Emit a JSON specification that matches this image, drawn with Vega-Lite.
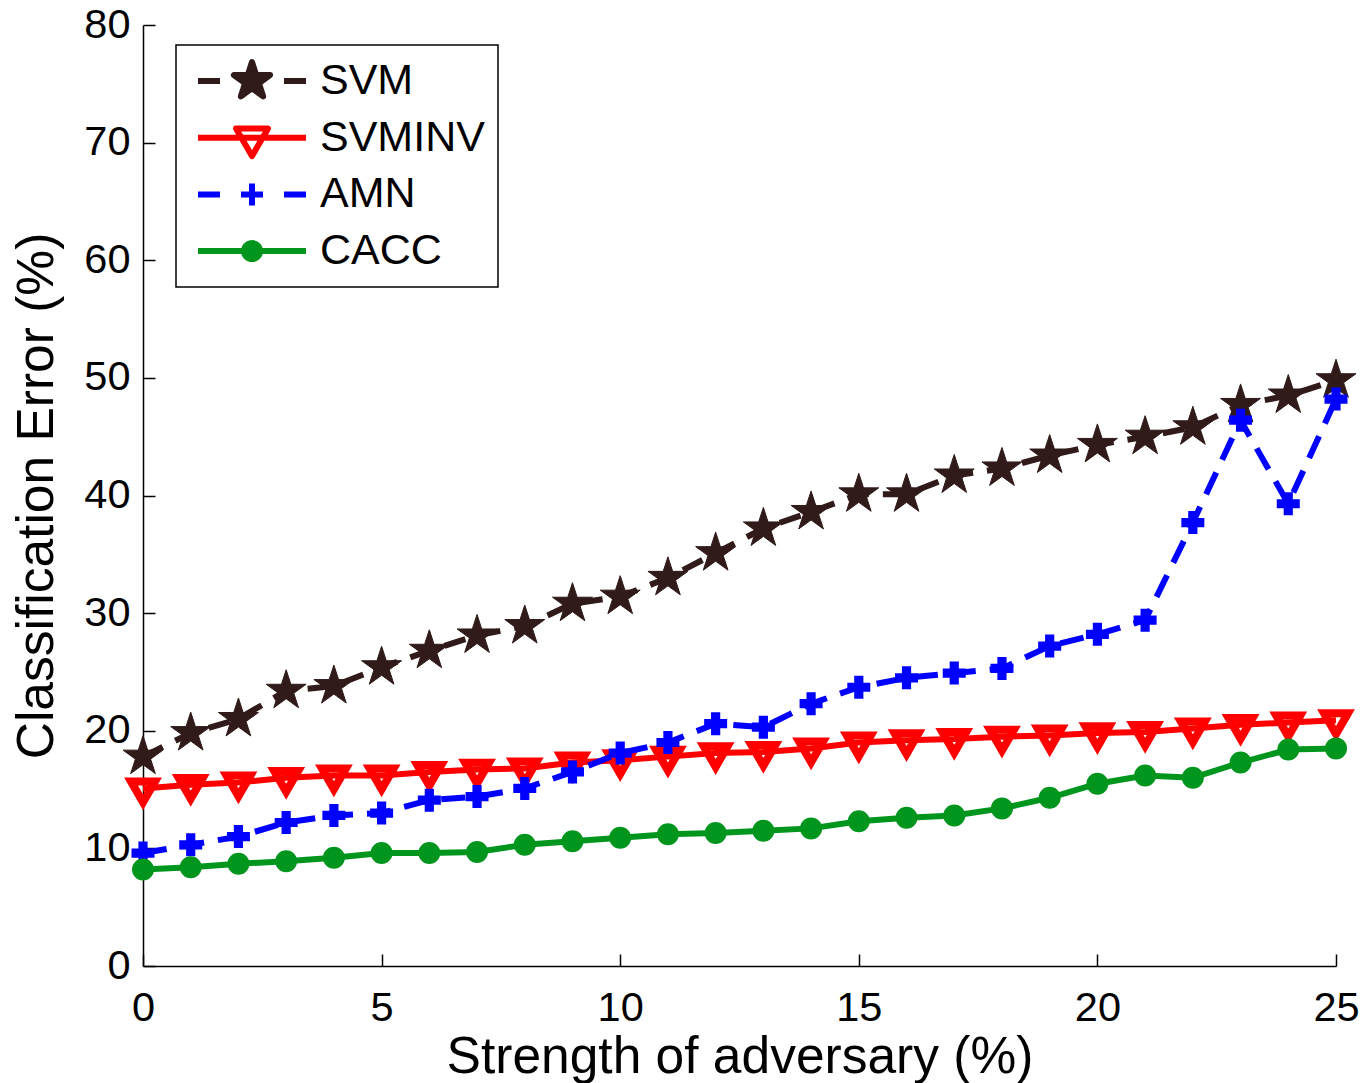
{
  "$schema": "https://vega.github.io/schema/vega-lite/v6.json",
  "width": 1193,
  "height": 941,
  "autosize": {"type": "none"},
  "padding": {"left": 143, "top": 25, "right": 30, "bottom": 117},
  "background": "white",
  "config": {
    "view": {"stroke": null},
    "font": "Liberation Sans",
    "axis": {
      "grid": false,
      "domainColor": "black",
      "domainWidth": 1.5,
      "tickColor": "black",
      "tickWidth": 1.5,
      "tickSize": -12,
      "labelColor": "black",
      "labelFont": "Liberation Sans",
      "labelFontSize": 41.5,
      "titleColor": "black",
      "titleFont": "Liberation Sans",
      "titleFontSize": 51.5,
      "titleFontWeight": "normal"
    }
  },
  "data": {"values": [
    {"x":0,"s":"SVM","v":17.8},{"x":1,"s":"SVM","v":19.8},{"x":2,"s":"SVM","v":21.0},{"x":3,"s":"SVM","v":23.4},{"x":4,"s":"SVM","v":23.8},{"x":5,"s":"SVM","v":25.4},{"x":6,"s":"SVM","v":26.8},{"x":7,"s":"SVM","v":28.1},{"x":8,"s":"SVM","v":28.9},{"x":9,"s":"SVM","v":30.8},{"x":10,"s":"SVM","v":31.4},{"x":11,"s":"SVM","v":33.0},{"x":12,"s":"SVM","v":35.1},{"x":13,"s":"SVM","v":37.2},{"x":14,"s":"SVM","v":38.6},{"x":15,"s":"SVM","v":40.1},{"x":16,"s":"SVM","v":40.1},{"x":17,"s":"SVM","v":41.7},{"x":18,"s":"SVM","v":42.3},{"x":19,"s":"SVM","v":43.4},{"x":20,"s":"SVM","v":44.3},{"x":21,"s":"SVM","v":45.0},{"x":22,"s":"SVM","v":45.8},{"x":23,"s":"SVM","v":47.7},{"x":24,"s":"SVM","v":48.5},{"x":25,"s":"SVM","v":49.8},
    {"x":0,"s":"SVMINV","v":15.1},{"x":1,"s":"SVMINV","v":15.4},{"x":2,"s":"SVMINV","v":15.6},{"x":3,"s":"SVMINV","v":16.0},{"x":4,"s":"SVMINV","v":16.2},{"x":5,"s":"SVMINV","v":16.2},{"x":6,"s":"SVMINV","v":16.5},{"x":7,"s":"SVMINV","v":16.7},{"x":8,"s":"SVMINV","v":16.8},{"x":9,"s":"SVMINV","v":17.3},{"x":10,"s":"SVMINV","v":17.5},{"x":11,"s":"SVMINV","v":17.8},{"x":12,"s":"SVMINV","v":18.1},{"x":13,"s":"SVMINV","v":18.2},{"x":14,"s":"SVMINV","v":18.5},{"x":15,"s":"SVMINV","v":19.0},{"x":16,"s":"SVMINV","v":19.2},{"x":17,"s":"SVMINV","v":19.3},{"x":18,"s":"SVMINV","v":19.5},{"x":19,"s":"SVMINV","v":19.6},{"x":20,"s":"SVMINV","v":19.8},{"x":21,"s":"SVMINV","v":19.9},{"x":22,"s":"SVMINV","v":20.2},{"x":23,"s":"SVMINV","v":20.5},{"x":24,"s":"SVMINV","v":20.7},{"x":25,"s":"SVMINV","v":20.9},
    {"x":0,"s":"AMN","v":9.6},{"x":1,"s":"AMN","v":10.3},{"x":2,"s":"AMN","v":11.0},{"x":3,"s":"AMN","v":12.2},{"x":4,"s":"AMN","v":12.8},{"x":5,"s":"AMN","v":13.0},{"x":6,"s":"AMN","v":14.1},{"x":7,"s":"AMN","v":14.4},{"x":8,"s":"AMN","v":15.1},{"x":9,"s":"AMN","v":16.5},{"x":10,"s":"AMN","v":18.1},{"x":11,"s":"AMN","v":19.0},{"x":12,"s":"AMN","v":20.6},{"x":13,"s":"AMN","v":20.3},{"x":14,"s":"AMN","v":22.3},{"x":15,"s":"AMN","v":23.7},{"x":16,"s":"AMN","v":24.5},{"x":17,"s":"AMN","v":24.9},{"x":18,"s":"AMN","v":25.3},{"x":19,"s":"AMN","v":27.2},{"x":20,"s":"AMN","v":28.2},{"x":21,"s":"AMN","v":29.4},{"x":22,"s":"AMN","v":37.7},{"x":23,"s":"AMN","v":46.4},{"x":24,"s":"AMN","v":39.3},{"x":25,"s":"AMN","v":48.2},
    {"x":0,"s":"CACC","v":8.2},{"x":1,"s":"CACC","v":8.4},{"x":2,"s":"CACC","v":8.7},{"x":3,"s":"CACC","v":8.9},{"x":4,"s":"CACC","v":9.2},{"x":5,"s":"CACC","v":9.6},{"x":6,"s":"CACC","v":9.6},{"x":7,"s":"CACC","v":9.7},{"x":8,"s":"CACC","v":10.3},{"x":9,"s":"CACC","v":10.6},{"x":10,"s":"CACC","v":10.9},{"x":11,"s":"CACC","v":11.2},{"x":12,"s":"CACC","v":11.3},{"x":13,"s":"CACC","v":11.5},{"x":14,"s":"CACC","v":11.7},{"x":15,"s":"CACC","v":12.3},{"x":16,"s":"CACC","v":12.6},{"x":17,"s":"CACC","v":12.8},{"x":18,"s":"CACC","v":13.4},{"x":19,"s":"CACC","v":14.3},{"x":20,"s":"CACC","v":15.5},{"x":21,"s":"CACC","v":16.2},{"x":22,"s":"CACC","v":16.0},{"x":23,"s":"CACC","v":17.3},{"x":24,"s":"CACC","v":18.4},{"x":25,"s":"CACC","v":18.5}
  ]},
  "encoding": {
    "x": {"field": "x", "type": "quantitative",
      "scale": {"domain": [0, 25], "nice": false, "zero": false},
      "axis": {"values": [0,5,10,15,20,25], "title": "Strength of adversary (%)", "labelPadding": 33, "titlePadding": 3, "labelFlush": false,
        "encode": {"ticks": {"update": {"y2": {"value": -12}}}}}},
    "y": {"field": "v", "type": "quantitative",
      "scale": {"domain": [0, 80], "nice": false},
      "axis": {"values": [0,10,20,30,40,50,60,70,80], "title": "Classification Error (%)", "labelPadding": 25, "titlePadding": 20, "labelFlush": false,
        "encode": {"ticks": {"update": {"x2": {"value": 12}}}}}}
  },
  "layer": [
    {"transform": [{"filter": "datum.s === 'SVM'"}],
     "mark": {"type": "line", "strokeWidth": 6, "strokeDash": [22, 14], "color": "#301A1A"},
     "encoding": {
       "color": {"field": "s", "type": "nominal",
         "scale": {"domain": ["SVM","SVMINV","AMN","CACC"], "range": ["#301A1A","#FF0000","#0000FF","#00961E"]},
         "legend": {
           "orient": "none", "legendX": 33, "legendY": 20, "title": null,
           "strokeColor": "black", "fillColor": "white", "padding": 13,
           "gridAlign": "all",
           "rowPadding": 11.7, "labelFont": "Liberation Sans", "labelFontSize": 43, "labelColor": "black", "labelLimit": 400,
           "symbolSize": 1600, "symbolOffset": 40, "labelOffset": 45,
           "encode": {
             "legend": {"update": {"strokeWidth": {"value": 1.5}}},
             "symbols": {"update": {
               "size": {"value": 1600},
               "strokeWidth": {"value": 6},
               "strokeJoin": {"value": "round"},
               "strokeDash": {"value": [1, 0]},
               "opacity": {"value": 1},
               "shape": {"signal": "datum.value === 'SVM' ? 'M-2.7,0H-1.6M1.6,0H2.7M0,-0.95L0.213,-0.294L0.904,-0.294L0.345,0.112L0.558,0.769L0,0.363L-0.558,0.769L-0.345,0.112L-0.904,-0.294L-0.213,-0.294Z' : datum.value === 'SVMINV' ? 'M-2.7,0H2.7M0,0.92L0.8,-0.46L-0.8,-0.46Z' : datum.value === 'AMN' ? 'M-2.7,0H-1.6M1.6,0H2.7M-0.55,0H0.55M0,-0.55V0.55' : 'M-2.7,0H2.7M-0.4,0A0.4,0.4 0 1,0 0.4,0A0.4,0.4 0 1,0 -0.4,0Z'"},
               "stroke": {"signal": "datum.value === 'SVM' ? '#301A1A' : datum.value === 'SVMINV' ? '#FF0000' : datum.value === 'AMN' ? '#0000FF' : '#00961E'"},
               "fill": {"signal": "datum.value === 'SVM' ? '#301A1A' : datum.value === 'SVMINV' ? 'transparent' : datum.value === 'AMN' ? '#0000FF' : '#00961E'"}
             }}
           }
         }}
     }},
    {"transform": [{"filter": "datum.s === 'SVM'"}],
     "mark": {"type": "point", "filled": true, "fill": "#301A1A", "stroke": "#301A1A", "strokeWidth": 1, "opacity": 1, "size": 1764,
       "shape": "M0,-1L0.2245,-0.309L0.951,-0.309L0.363,0.118L0.588,0.809L0,0.382L-0.588,0.809L-0.363,0.118L-0.951,-0.309L-0.2245,-0.309Z"}},
    {"transform": [{"filter": "datum.s === 'SVMINV'"}],
     "mark": {"type": "line", "strokeWidth": 6, "color": "#FF0000"},
     "encoding": {"color": {"field": "s", "type": "nominal"}}},
    {"transform": [{"filter": "datum.s === 'SVMINV'"}],
     "mark": {"type": "point", "filled": false, "fill": "transparent", "stroke": "#FF0000", "strokeWidth": 8, "strokeJoin": "miter", "opacity": 1, "size": 576,
       "shape": "M0,1.155L1,-0.577L-1,-0.577Z"}},
    {"transform": [{"filter": "datum.s === 'AMN'"}],
     "mark": {"type": "line", "strokeWidth": 6, "strokeDash": [24, 14]},
     "encoding": {"color": {"field": "s", "type": "nominal"}}},
    {"transform": [{"filter": "datum.s === 'AMN'"}],
     "mark": {"type": "point", "filled": true, "fill": "#0000FF", "strokeWidth": 0, "opacity": 1, "size": 529, "shape": "cross"}},
    {"transform": [{"filter": "datum.s === 'CACC'"}],
     "mark": {"type": "line", "strokeWidth": 6},
     "encoding": {"color": {"field": "s", "type": "nominal"}}},
    {"transform": [{"filter": "datum.s === 'CACC'"}],
     "mark": {"type": "point", "filled": true, "fill": "#00961E", "stroke": "#00961E", "strokeWidth": 2, "opacity": 1, "size": 400, "shape": "circle"}}
  ]
}
